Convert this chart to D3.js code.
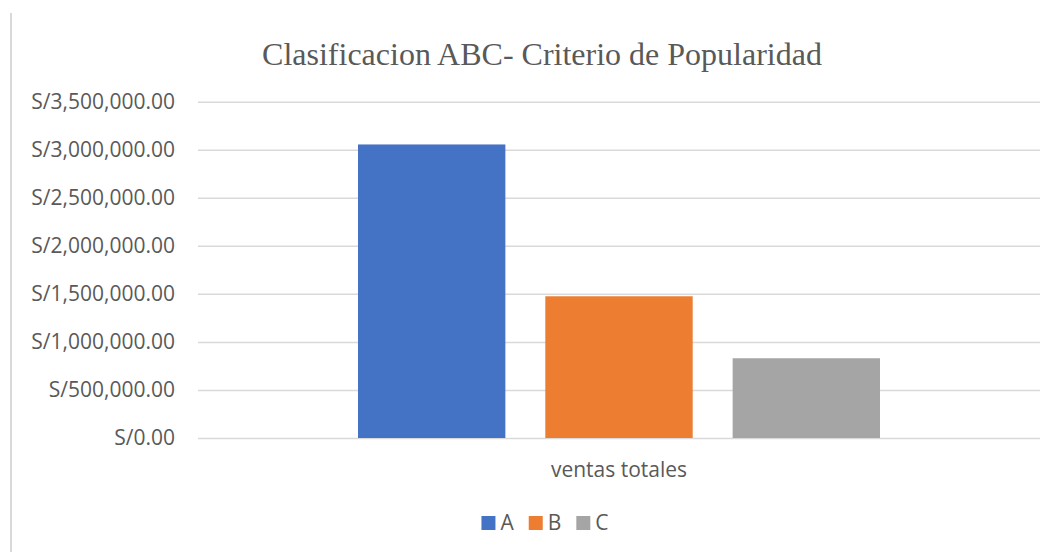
<!DOCTYPE html>
<html>
<head>
<meta charset="utf-8">
<script src="https://cdn.jsdelivr.net/npm/d3@7"></script>
<style>
	body { margin: 0; background: #fff; }
	svg { display: block; }
	.tick-label, .cat-label, .legend-text { font-family: "Open Sans", sans-serif; font-size: 21px; fill: #595959; }
	.title { font-family: "Liberation Serif", "Times New Roman", serif; font-size: 32px; fill: #595959; }
</style>
</head>
<body>
<svg id="chart"></svg>
<script>
var title = "Clasificacion ABC- Criterio de Popularidad";
var categories = ["ventas totales"];
var seriesNames = ["A", "B", "C"];
var seriesValues = [3055000, 1475000, 830000];
var seriesColors = ["#4472C4", "#ED7D31", "#A5A5A5"];
var yTicks = [0, 500000, 1000000, 1500000, 2000000, 2500000, 3000000, 3500000];

function drawChart() {
	var width = 1060, height = 552;
	var left = 198, right = 1040, top = 101.7, bottom = 438;

	var svg = d3.select("#chart").attr("width", width).attr("height", height);

	// chart frame, only the left edge shows
	svg.append("line").attr("x1", 11).attr("x2", 11).attr("y1", 13).attr("y2", height)
		.attr("stroke", "#d9d9d9").attr("stroke-width", 2);

	var y = d3.scaleLinear().domain([0, 3500000]).range([bottom, top]);
	var x = d3.scaleBand().domain(categories).range([left, right]).paddingInner(0).paddingOuter(0.3065);
	var xSub = d3.scaleBand().domain(seriesNames).range([0, x.bandwidth()]).paddingInner(0.2133).paddingOuter(0);

	var fmt = function(v) { return "S/" + d3.format(",.2f")(v); };

	var yAxis = d3.axisLeft(y).tickValues(yTicks).tickFormat(fmt).tickSize(left - right).tickPadding(23);
	var g = svg.append("g").attr("transform", "translate(" + left + ",0)").call(yAxis);
	g.select(".domain").remove();
	g.selectAll(".tick line").attr("stroke", "#d9d9d9").attr("stroke-width", 1.5);
	g.selectAll(".tick text").attr("class", "tick-label").attr("fill", null).attr("font-size", null).attr("font-family", null);
	g.attr("font-size", null).attr("font-family", null);

	svg.append("g").selectAll("rect")
		.data(seriesValues)
		.join("rect")
		.attr("x", function(d, i) { return x(categories[0]) + xSub(seriesNames[i]); })
		.attr("y", function(d) { return y(d); })
		.attr("width", xSub.bandwidth())
		.attr("height", function(d) { return y(0) - y(d); })
		.attr("fill", function(d, i) { return seriesColors[i]; });

	svg.append("text").attr("class", "cat-label").attr("x", x(categories[0]) + x.bandwidth() / 2).attr("y", 477)
		.attr("text-anchor", "middle").text(categories[0]);

	svg.append("text").attr("class", "title").attr("x", 542).attr("y", 65)
		.attr("text-anchor", "middle").text(title);

	// legend, centred under the plot
	var legend = svg.append("g");
	var pos = 0;
	seriesNames.forEach(function(name, i) {
		legend.append("rect").attr("x", pos).attr("y", -14).attr("width", 14).attr("height", 14).attr("fill", seriesColors[i]);
		var t = legend.append("text").attr("class", "legend-text").attr("x", pos + 19).attr("y", 0).text(name);
		pos += 19 + t.node().getComputedTextLength() + 15;
	});
	var legendWidth = pos - 15;
	legend.attr("transform", "translate(" + (545 - legendWidth / 2) + ",530)");
}

drawChart();
</script>
</body>
</html>
